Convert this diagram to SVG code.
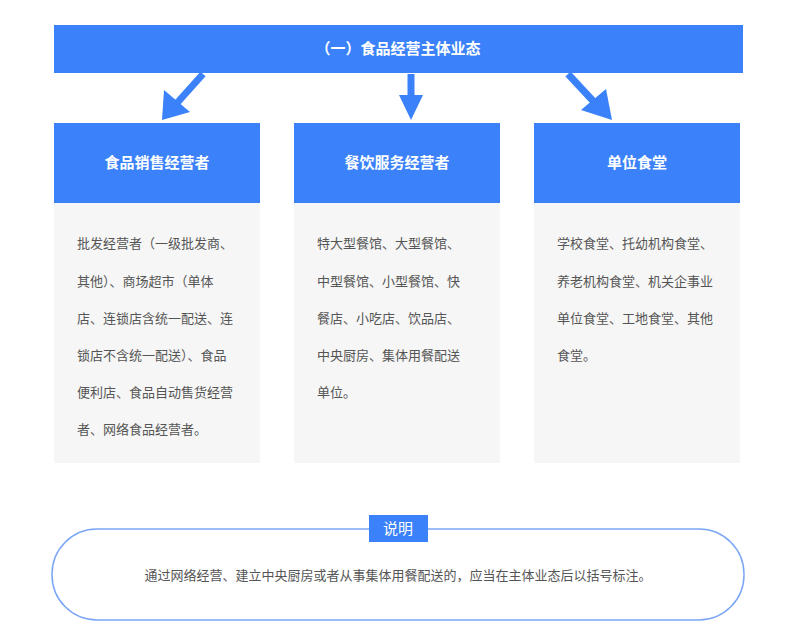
<svg xmlns="http://www.w3.org/2000/svg" width="800" height="644" viewBox="0 0 800 644">
<style>
.blue{fill:#3b82fa}
.hd{font-family:"Noto Sans CJK SC","Noto Sans",sans-serif;font-size:15px;font-weight:bold;fill:#fff;text-anchor:middle}
.bd{font-family:"Noto Sans CJK SC","Noto Sans",sans-serif;font-size:13px;fill:#555}
.body{fill:#f6f6f6}
.ar{stroke:#3b82fa;stroke-width:7;fill:none}
</style>
<rect width="800" height="644" fill="#fff"/>
<g id="top"><rect class="blue" x="54" y="25" width="689" height="48"/><text class="hd" x="398" y="54">（一）食品经营主体业态</text></g>
<g id="connectors">
<line class="ar" x1="203" y1="74" x2="177" y2="103"/><polygon class="blue" points="162,120 164,90 190,112"/>
<line class="ar" x1="411" y1="74" x2="411" y2="98"/><polygon class="blue" points="411,120 399,95 423,95"/>
<line class="ar" x1="568" y1="74" x2="594" y2="102"/><polygon class="blue" points="612,120 581,110 606,89"/>
</g>
<g id="n1"><rect class="body" x="54" y="203" width="206" height="260"/><rect class="blue" x="54" y="123" width="206" height="80"/><text class="hd" x="157" y="168">食品销售经营者</text>
<text class="bd" x="77" y="248">批发经营者（一级批发商、</text><text class="bd" x="77" y="286">其他）、商场超市（单体</text><text class="bd" x="77" y="323">店、连锁店含统一配送、连</text><text class="bd" x="77" y="360">锁店不含统一配送）、食品</text><text class="bd" x="77" y="397">便利店、食品自动售货经营</text><text class="bd" x="77" y="434">者、网络食品经营者。</text></g>
<g id="n2"><rect class="body" x="294" y="203" width="206" height="260"/><rect class="blue" x="294" y="123" width="206" height="80"/><text class="hd" x="397" y="168">餐饮服务经营者</text>
<text class="bd" x="317" y="248">特大型餐馆、大型餐馆、</text><text class="bd" x="317" y="286">中型餐馆、小型餐馆、快</text><text class="bd" x="317" y="323">餐店、小吃店、饮品店、</text><text class="bd" x="317" y="360">中央厨房、集体用餐配送</text><text class="bd" x="317" y="397">单位。</text></g>
<g id="n3"><rect class="body" x="534" y="203" width="206" height="260"/><rect class="blue" x="534" y="123" width="206" height="80"/><text class="hd" x="637" y="168">单位食堂</text>
<text class="bd" x="557" y="248">学校食堂、托幼机构食堂、</text><text class="bd" x="557" y="286">养老机构食堂、机关企事业</text><text class="bd" x="557" y="323">单位食堂、工地食堂、其他</text><text class="bd" x="557" y="360">食堂。</text></g>
<g id="note"><rect x="52" y="529" width="692" height="91" rx="45" fill="#fff" stroke="#7aa6f5" stroke-width="1.5"/>
<rect class="blue" x="369" y="515" width="59" height="27"/><text class="hd" x="398" y="534" style="font-weight:normal">说明</text>
<text class="bd" x="398" y="580" text-anchor="middle">通过网络经营、建立中央厨房或者从事集体用餐配送的，应当在主体业态后以括号标注。</text></g>
</svg>
